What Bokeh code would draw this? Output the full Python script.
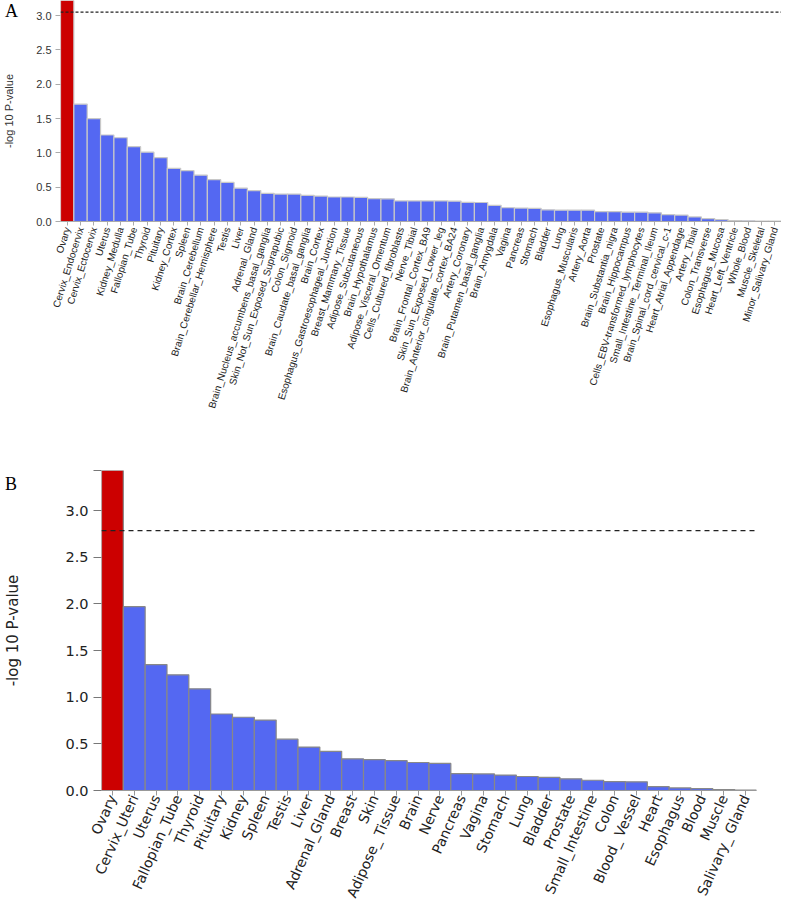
from bokeh.plotting import figure
from bokeh.models import (FactorRange, Range1d, Span, FixedTicker, Div,
                          ColumnDataSource, PrintfTickFormatter)
from bokeh.embed import file_html
from bokeh.resources import INLINE

# ---------------- data: panel A ----------------
tissues_a = [
    "Ovary", "Cervix_Endocervix", "Cervix_Ectocervix", "Uterus", "Kidney_Medulla",
    "Fallopian_Tube", "Thyroid", "Pituitary", "Kidney_Cortex", "Spleen",
    "Brain_Cerebellum", "Brain_Cerebellar_Hemisphere", "Testis", "Liver", "Adrenal_Gland",
    "Brain_Nucleus_accumbens_basal_ganglia", "Skin_Not_Sun_Exposed_Suprapubic", "Colon_Sigmoid",
    "Brain_Caudate_basal_ganglia", "Brain_Cortex", "Esophagus_Gastroesophageal_Junction",
    "Breast_Mammary_Tissue", "Adipose_Subcutaneous", "Brain_Hypothalamus",
    "Adipose_Visceral_Omentum", "Cells_Cultured_fibroblasts", "Nerve_Tibial",
    "Brain_Frontal_Cortex_BA9", "Skin_Sun_Exposed_Lower_leg",
    "Brain_Anterior_cingulate_cortex_BA24", "Artery_Coronary", "Brain_Putamen_basal_ganglia",
    "Brain_Amygdala", "Vagina", "Pancreas", "Stomach", "Bladder", "Lung",
    "Esophagus_Muscularis", "Artery_Aorta", "Prostate", "Brain_Substantia_nigra",
    "Brain_Hippocampus", "Cells_EBV-transformed_lymphocytes", "Small_Intestine_Terminal_Ileum",
    "Brain_Spinal_cord_cervical_c-1", "Heart_Atrial_Appendage", "Artery_Tibial",
    "Colon_Transverse", "Esophagus_Mucosa", "Heart_Left_Ventricle", "Whole_Blood",
    "Muscle_Skeletal", "Minor_Salivary_Gland",
]
values_a = [
    3.30, 1.71, 1.50, 1.26, 1.22, 1.09, 1.01, 0.93, 0.775, 0.74,
    0.675, 0.61, 0.57, 0.485, 0.45, 0.41, 0.40, 0.40, 0.38, 0.37,
    0.357, 0.357, 0.352, 0.333, 0.33, 0.30, 0.30, 0.30, 0.30, 0.296,
    0.28, 0.277, 0.235, 0.20, 0.195, 0.19, 0.17, 0.165, 0.165, 0.165,
    0.145, 0.145, 0.136, 0.136, 0.127, 0.10, 0.094, 0.066, 0.042, 0.028,
    0.014, 0.01, 0.006, 0.005,
]
threshold_a = 3.05
ymax_a = 3.22

# ---------------- data: panel B ----------------
tissues_b = [
    "Ovary", "Cervix_Uteri", "Uterus", "Fallopian_Tube", "Thyroid", "Pituitary",
    "Kidney", "Spleen", "Testis", "Liver", "Adrenal_Gland", "Breast", "Skin",
    "Adipose_ Tissue", "Brain", "Nerve", "Pancreas", "Vagina", "Stomach", "Lung",
    "Bladder", "Prostate", "Small_Intestine", "Colon", "Blood_ Vessel", "Heart",
    "Esophagus", "Blood", "Muscle", "Salivary_ Gland",
]
values_b = [
    3.43, 1.97, 1.35, 1.24, 1.09, 0.82, 0.785, 0.755, 0.55, 0.465,
    0.42, 0.34, 0.33, 0.32, 0.30, 0.29, 0.18, 0.178, 0.165, 0.15,
    0.14, 0.125, 0.11, 0.095, 0.093, 0.042, 0.028, 0.02, 0.01, 0.004,
]
threshold_b = 2.785

y_ticks = [0.0, 0.5, 1.0, 1.5, 2.0, 2.5, 3.0]

RED = "#CC0000"
BLUE = "#5468F2"


def colors_for(vals):
    top = max(vals)
    return [RED if v == top else BLUE for v in vals]


# ---------------- panel A ----------------
src_a = ColumnDataSource(dict(tissue=tissues_a, value=values_a, color=colors_for(values_a)))
pA = figure(x_range=FactorRange(factors=tissues_a), y_range=Range1d(0, ymax_a),
            width=781, height=414, output_backend="svg", toolbar_location=None,
            min_border_left=57, min_border_right=0, min_border_top=0, min_border_bottom=185)
pA.vbar(x="tissue", top="value", width=1.0, source=src_a, fill_color="color",
        line_color="#c8c8c8", line_width=1.2)
pA.add_layout(Span(location=threshold_a, dimension="width", line_color="#222222",
                   line_dash="3 2", line_width=1.2))
pA.grid.visible = False
pA.outline_line_color = None

ya = pA.yaxis[0]
ya.ticker = FixedTicker(ticks=y_ticks)
ya.formatter = PrintfTickFormatter(format="%.1f")
ya.axis_line_color = None
ya.major_tick_out = 5
ya.major_tick_in = 0
ya.minor_tick_line_color = None
ya.major_tick_line_color = "#aaaaaa"
ya.major_label_standoff = 4
ya.major_label_text_font = "Liberation Sans"
ya.major_label_text_font_size = "11px"
ya.major_label_text_color = "#333333"
ya.axis_label = "-log 10 P-value"
ya.axis_label_text_font = "Liberation Sans"
ya.axis_label_text_font_style = "normal"
ya.axis_label_text_font_size = "11px"
ya.axis_label_text_color = "#333333"
ya.axis_label_standoff = 18

xa = pA.xaxis[0]
xa.major_label_orientation = 1.27
xa.major_label_text_font = "Liberation Sans"
xa.major_label_text_font_size = "10px"
xa.major_label_text_color = "#222222"
xa.major_label_standoff = 2
xa.major_tick_out = 4
xa.major_tick_in = 0
xa.major_tick_line_color = "#aaaaaa"
xa.axis_line_color = "#aaaaaa"

# ---------------- panel B ----------------
ymax_b = max(values_b)
src_b = ColumnDataSource(dict(tissue=tissues_b, value=values_b, color=colors_for(values_b)))
pB = figure(x_range=FactorRange(factors=tissues_b), y_range=Range1d(0, ymax_b),
            width=781, height=492, output_backend="svg", toolbar_location=None,
            min_border_left=101, min_border_right=25, min_border_top=56, min_border_bottom=112)
pB.vbar(x="tissue", top="value", width=1.0, source=src_b, fill_color="color",
        line_color="#888888", line_width=1.2)
pB.add_layout(Span(location=threshold_b, dimension="width", line_color="#222222",
                   line_dash="5 4", line_width=1.3))
pB.grid.visible = False
pB.outline_line_color = None

yb = pB.yaxis[0]
yb.ticker = FixedTicker(ticks=y_ticks + [ymax_b])
yb.formatter = PrintfTickFormatter(format="%.1f")
yb.major_label_overrides = {ymax_b: ""}
yb.axis_line_color = None
yb.major_tick_out = 8
yb.major_tick_in = 0
yb.minor_tick_line_color = None
yb.major_tick_line_color = "#777777"
yb.major_label_standoff = 5
yb.major_label_text_font = "DejaVu Sans"
yb.major_label_text_font_size = "14.5px"
yb.major_label_text_color = "#222222"
yb.axis_label = "-log 10 P-value"
yb.axis_label_text_font = "DejaVu Sans"
yb.axis_label_text_font_style = "normal"
yb.axis_label_text_font_size = "15px"
yb.axis_label_text_color = "#222222"
yb.axis_label_standoff = 40

xb = pB.xaxis[0]
xb.major_label_orientation = 1.15
xb.major_label_text_font = "DejaVu Sans"
xb.major_label_text_font_size = "14px"
xb.major_label_text_color = "#222222"
xb.major_label_standoff = 0
xb.major_tick_out = 5
xb.major_tick_in = 0
xb.major_tick_line_color = "#999999"
xb.axis_line_color = "#999999"

panel_style = {"position": "absolute", "font-family": "Liberation Serif",
               "font-size": "18px", "line-height": "0.7", "color": "black"}
label_a = Div(text="A", styles=dict(panel_style, left="0px", top="0px"))
label_b = Div(text="B", styles=dict(panel_style, left="0px", top="473px"))

open("out.html", "w").write(file_html([pA, pB, label_a, label_b], INLINE))
